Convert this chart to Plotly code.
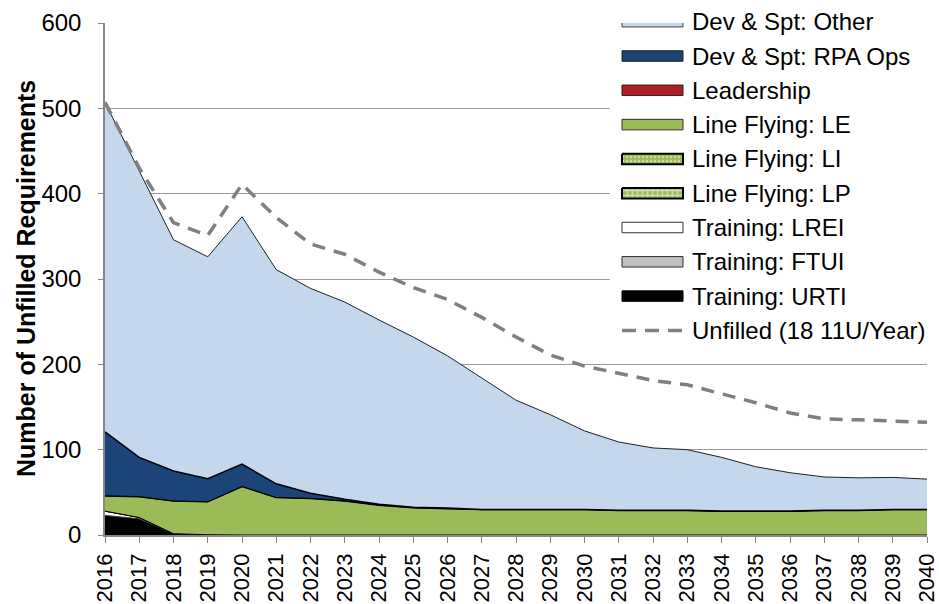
import plotly.graph_objects as go

years = list(range(2016, 2041))

# Stacked series (bottom to top)
urti = [23, 19, 1.5, 0.3] + [0] * 21
ftui = [0] * 25
lrei = [5, 1.5] + [0] * 23
line_lp = [0] * 25
line_li = [0] * 25
line_le = [18, 24.5, 38.5, 38.7, 57, 44, 43, 40, 35, 32, 31, 30, 30, 30, 30,
           29, 29, 29, 28, 28, 28, 29, 29, 30, 30]
leadership = [0] * 25
rpa_ops = [75, 46, 35, 27, 26, 16, 6, 2, 1, 0.5, 0.5, 0, 0, 0, 0,
           0, 0, 0, 0, 0, 0, 0, 0, 0, 0]
other = [386, 335, 271, 260, 290, 251, 240, 231, 216, 199.5, 178.5, 154, 128, 111, 92,
         80, 73, 71, 63, 52, 45, 39, 38, 37.5, 35.5]
unfilled = [507, 430, 366, 351, 411, 372, 341, 329, 308, 290, 276, 255, 232, 211, 198,
            189, 181, 176, 166, 155, 143, 136, 135, 134, 132]

y_ticks = [0, 100, 200, 300, 400, 500, 600]

FONT = "Liberation Sans, Arial, sans-serif"
GREEN = "#9BBB59"

series = [
    ("Training: URTI", urti, "#000000", None, "#000000", 1),
    ("Training: FTUI", ftui, "#BFBFBF", None, "#404040", 1),
    ("Training: LREI", lrei, "#FFFFFF", None, "#000000", 1),
    ("Line Flying: LP", line_lp, GREEN, "lp", "#000000", 1),
    ("Line Flying: LI", line_li, GREEN, "li", "#000000", 1),
    ("Line Flying: LE", line_le, GREEN, None, "#000000", 1.8),
    ("Leadership", leadership, "#B01E23", None, "#000000", 1),
    ("Dev & Spt: RPA Ops", rpa_ops, "#1B4478", None, "#000000", 1.5),
    ("Dev & Spt: Other", other, "#C5D7EC", None, "#202020", 1),
]

def pattern(kind):
    if kind == "li":
        return dict(shape=".", bgcolor=GREEN, fgcolor="white", size=4, solidity=0.3)
    if kind == "lp":
        return dict(shape="+", bgcolor=GREEN, fgcolor="white", size=5, solidity=0.5)
    return None

fig = go.Figure()

for name, vals, color, pat, lcol, lw in series:
    kw = {}
    if pat:
        kw["fillpattern"] = pattern(pat)
    fig.add_trace(go.Scatter(
        x=years, y=vals, name=name, mode="lines", stackgroup="one",
        fillcolor=color, line=dict(color=lcol, width=lw), showlegend=False, **kw))

fig.add_trace(go.Scatter(
    x=years, y=unfilled, name="Unfilled (18 11U/Year)", mode="lines",
    line=dict(color="#7F7F7F", width=3.5, dash="13px,9px"), showlegend=False))

# ---- custom legend (pixel-space overlay axes) ----
PL, PR, PT, PB = 105, 927, 23, 535

# white backdrop hiding gridlines
fig.add_trace(go.Scatter(
    x=[610, 935, 935, 610, 610], y=[18, 18, 347, 347, 18], xaxis="x2", yaxis="y2",
    mode="lines", fill="toself", fillcolor="white", line=dict(width=0),
    showlegend=False, hoverinfo="skip"))

legend_items = [
    ("Dev & Spt: Other", "#C5D7EC", None, "#404040", 1),
    ("Dev & Spt: RPA Ops", "#1B4478", None, "#202020", 1),
    ("Leadership", "#B01E23", None, "#202020", 1),
    ("Line Flying: LE", GREEN, None, "#303030", 1),
    ("Line Flying: LI", GREEN, "li", "#000000", 2),
    ("Line Flying: LP", GREEN, "lp", "#000000", 2),
    ("Training: LREI", "#FFFFFF", None, "#303030", 1),
    ("Training: FTUI", "#BFBFBF", None, "#303030", 1),
    ("Training: URTI", "#000000", None, "#000000", 1),
]
row0, dy = 21.7, 34.3
sx0, sx1, sh = 622, 683, 10.5
tx = 690

def px_x(p):
    return (p - PL) / (PR - PL)

def px_y(p):
    return 1 - (p - PT) / (PB - PT)

for i, (name, color, pat, lcol, lw) in enumerate(legend_items):
    yc = row0 + i * dy
    kw = {}
    if pat:
        kw["fillpattern"] = pattern(pat)
    fig.add_trace(go.Scatter(
        x=[sx0, sx1, sx1, sx0, sx0],
        y=[yc - sh / 2, yc - sh / 2, yc + sh / 2, yc + sh / 2, yc - sh / 2],
        xaxis="x2", yaxis="y2", mode="lines", fill="toself", fillcolor=color,
        line=dict(color=lcol, width=lw), showlegend=False, hoverinfo="skip", **kw))
    fig.add_annotation(x=px_x(tx), y=px_y(yc), xref="paper", yref="paper",
                       text=name, showarrow=False, xanchor="left", yanchor="middle",
                       font=dict(family=FONT, size=24, color="black"))

yc = row0 + 9 * dy
fig.add_trace(go.Scatter(
    x=[sx0, sx1], y=[yc, yc], xaxis="x2", yaxis="y2", mode="lines",
    line=dict(color="#7F7F7F", width=3.5, dash="14px,9px"),
    showlegend=False, hoverinfo="skip"))
fig.add_annotation(x=px_x(tx), y=px_y(yc), xref="paper", yref="paper",
                   text="Unfilled (18 11U/Year)", showarrow=False, xanchor="left",
                   yanchor="middle", font=dict(family=FONT, size=24, color="black"))

# y-axis title
fig.add_annotation(x=px_x(26), y=0.5, xref="paper", yref="paper",
                   text="<b>Number of Unfilled Requirements</b>", textangle=-90,
                   showarrow=False, xanchor="center", yanchor="middle",
                   font=dict(family=FONT, size=25, color="black"))

fig.update_layout(
    width=939, height=604,
    margin=dict(l=PL, r=939 - PR, t=PT, b=604 - PB, pad=0, autoexpand=False),
    paper_bgcolor="white", plot_bgcolor="white",
    font=dict(family=FONT, size=24, color="black"),
    showlegend=False,
    xaxis=dict(range=[2016, 2040], tickvals=years, ticktext=[str(y) for y in years],
               tickangle=-90, ticks="outside", ticklen=6, tickcolor="#868686",
               showline=True, linecolor="#868686", linewidth=1.5, showgrid=False,
               zeroline=False, tickfont=dict(size=22), automargin=False,
               ticklabeloverflow="allow", ticklabelstandoff=2),
    yaxis=dict(range=[0, 600], tickvals=y_ticks, ticks="outside", ticklen=5,
               tickcolor="#868686", showline=True, linecolor="#868686", linewidth=1.5,
               showgrid=True, gridcolor="#9A9A9A", gridwidth=1, zeroline=False,
               tickfont=dict(size=24), automargin=False, ticklabeloverflow="allow",
               ticklabelstandoff=12),
    xaxis2=dict(overlaying="x", range=[PL, PR], visible=False, anchor="y2"),
    yaxis2=dict(overlaying="y", range=[PB, PT], visible=False, anchor="x2"),
)

fig.write_html(
    "out.html",
    config={"displayModeBar": False},
    post_script="document.body.style.margin='0';document.body.style.overflow='hidden';",
)
